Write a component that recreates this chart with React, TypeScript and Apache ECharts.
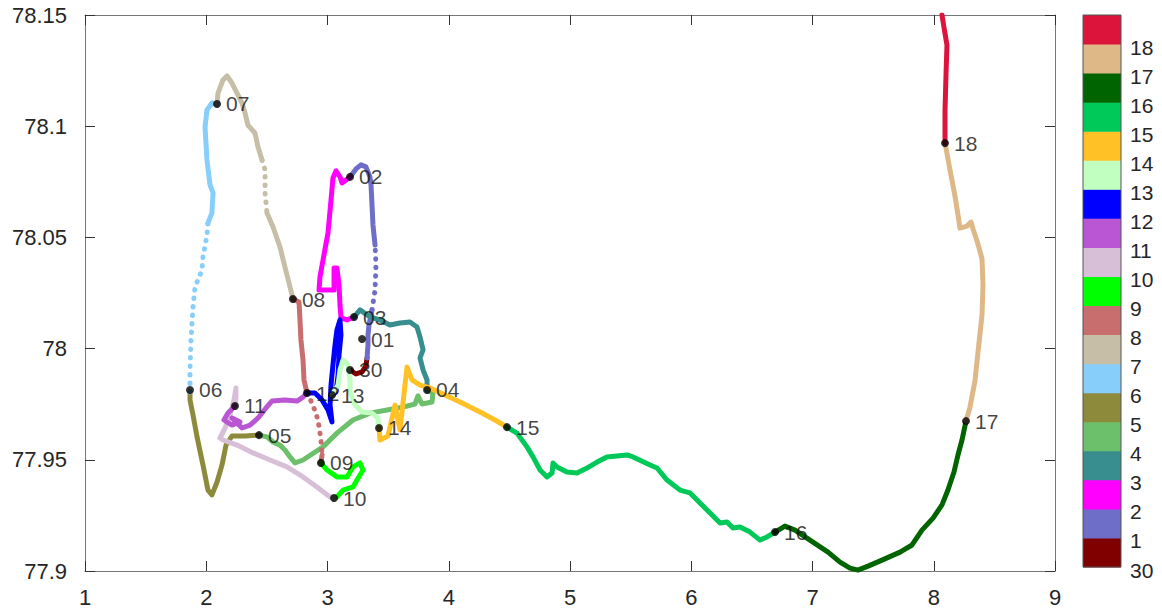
import React, { useEffect, useRef } from 'react';
import * as echarts from 'echarts';

// ---- Track data (x, y) per day ----
const day30 = [[3.186, 77.9904], [3.235, 77.9886], [3.285, 77.9895], [3.317, 77.9922], [3.326, 77.9958]];
const day01a = [[3.326, 77.9958], [3.334, 78.0016], [3.334, 78.0061], [3.342, 78.0106], [3.367, 78.0174]];
const day01Sparse = [[3.367, 78.0174], [3.392, 78.0263], [3.4, 78.0376], [3.392, 78.0466]];
const day01b = [[3.392, 78.0466], [3.375, 78.0556], [3.367, 78.0646], [3.359, 78.0736], [3.35, 78.0772], [3.317, 78.0817], [3.276, 78.0826], [3.235, 78.0808], [3.186, 78.0772]];
const day02 = [[3.186, 78.0772], [3.12, 78.0745], [3.103, 78.0772], [3.07, 78.0799], [3.045, 78.0767], [3.029, 78.0668], [3.004, 78.052], [2.963, 78.0398], [2.938, 78.0322], [2.93, 78.0263], [3.054, 78.0263], [3.054, 78.0362], [3.078, 78.0362], [3.095, 78.0286], [3.103, 78.0196], [3.111, 78.0138], [3.161, 78.0129], [3.219, 78.0142]];
const day03 = [[3.219, 78.0142], [3.268, 78.0174], [3.351, 78.0142], [3.433, 78.0129], [3.515, 78.0106], [3.598, 78.0115], [3.68, 78.012], [3.738, 78.0097], [3.763, 78.0052], [3.788, 77.9994], [3.763, 77.9958], [3.788, 77.9904], [3.821, 77.9859], [3.821, 77.9814]];
const day04 = [[3.821, 77.9814], [3.87, 77.98], [3.862, 77.976], [3.779, 77.9751], [3.746, 77.9787], [3.722, 77.9751], [3.623, 77.9737], [3.491, 77.9724], [3.351, 77.971], [3.21, 77.9679], [3.078, 77.962], [2.963, 77.9558], [2.798, 77.9499], [2.732, 77.9486], [2.691, 77.9513], [2.649, 77.9544], [2.608, 77.9566], [2.551, 77.958], [2.501, 77.9603], [2.435, 77.9611]];
const day05 = [[2.435, 77.9611], [2.32, 77.9607], [2.212, 77.9607], [2.163, 77.9566], [2.13, 77.9477], [2.089, 77.94], [2.047, 77.9342], [2.014, 77.9364], [1.973, 77.9477], [1.924, 77.9603], [1.891, 77.9701], [1.866, 77.9769], [1.866, 77.9805]];
const day06Sparse = [[1.866, 77.9805], [1.866, 77.9904], [1.874, 78.0039], [1.891, 78.0187], [1.907, 78.0277], [1.965, 78.0353], [1.973, 78.0412], [2.006, 78.0511], [2.014, 78.0565]];
const day06 = [[2.014, 78.0565], [2.047, 78.061], [2.056, 78.07], [2.031, 78.0736], [2.006, 78.0848], [1.99, 78.0996], [2.006, 78.1073], [2.047, 78.1104], [2.089, 78.11]];
const day07a = [[2.089, 78.11], [2.097, 78.1149], [2.138, 78.1208], [2.171, 78.1226], [2.212, 78.1194], [2.254, 78.1149], [2.295, 78.1104], [2.32, 78.1059], [2.344, 78.1005], [2.402, 78.0969], [2.427, 78.0906], [2.46, 78.0848]];
const day07Sparse = [[2.46, 78.0848], [2.485, 78.0803], [2.485, 78.07], [2.501, 78.061]];
const day07b = [[2.501, 78.061], [2.551, 78.0547], [2.608, 78.0457], [2.649, 78.0367], [2.691, 78.0277], [2.715, 78.0223]];
const day08a = [[2.715, 78.0223], [2.765, 78.021], [2.773, 78.0129], [2.781, 78.0039], [2.798, 77.9949], [2.806, 77.9859], [2.831, 77.98]];
const day08Sparse = [[2.831, 77.98], [2.88, 77.9746], [2.922, 77.9679], [2.946, 77.9589], [2.955, 77.9522]];
const day08b = [[2.955, 77.9522], [2.946, 77.9486]];
const day09 = [[2.946, 77.9486], [2.996, 77.9454], [3.078, 77.9423], [3.161, 77.9423], [3.21, 77.9468], [3.268, 77.9486], [3.293, 77.9454], [3.243, 77.9409], [3.21, 77.9378], [3.128, 77.9364], [3.078, 77.9333], [3.045, 77.9328]];
const day10 = [[3.054, 77.9328], [3.021, 77.9333], [2.913, 77.9378], [2.798, 77.9423], [2.666, 77.9468], [2.526, 77.9499], [2.386, 77.9531], [2.254, 77.9566], [2.138, 77.9589], [2.113, 77.9598], [2.155, 77.9643], [2.196, 77.9701], [2.229, 77.9769], [2.245, 77.9823], [2.245, 77.9778], [2.237, 77.9742]];
const day11 = [[2.237, 77.9742], [2.179, 77.971], [2.146, 77.9679], [2.212, 77.9656], [2.278, 77.967], [2.212, 77.9688], [2.295, 77.9643], [2.361, 77.9656], [2.427, 77.9688], [2.493, 77.9733], [2.542, 77.9764], [2.649, 77.9769], [2.748, 77.9764], [2.798, 77.9782], [2.831, 77.98]];
const day12 = [[2.831, 77.98], [2.897, 77.98], [2.955, 77.9769], [3.004, 77.9724], [3.037, 77.967], [3.021, 77.9746], [3.029, 77.9836], [3.045, 77.9926], [3.062, 78.0016], [3.078, 78.0084], [3.103, 78.0129], [3.111, 78.0061], [3.095, 77.9971], [3.087, 77.9881], [3.07, 77.9805], [3.037, 77.9791]];
const day13 = [[3.037, 77.9791], [3.087, 77.9836], [3.103, 77.9904], [3.128, 77.9949], [3.169, 77.9926], [3.186, 77.9859], [3.186, 77.9805], [3.227, 77.9746], [3.285, 77.9715], [3.367, 77.971], [3.416, 77.9688], [3.425, 77.9643]];
const day14 = [[3.425, 77.9643], [3.433, 77.9589], [3.499, 77.9607], [3.557, 77.9746], [3.581, 77.9679], [3.598, 77.9634], [3.639, 77.9836], [3.656, 77.9917], [3.697, 77.9859], [3.763, 77.9836], [3.845, 77.9823], [3.969, 77.9791], [4.093, 77.976], [4.258, 77.9715], [4.381, 77.9679], [4.48, 77.9647]];
const day15 = [[4.48, 77.9647], [4.563, 77.962], [4.645, 77.9558], [4.695, 77.9513], [4.753, 77.9454], [4.81, 77.9423], [4.852, 77.9441], [4.86, 77.9486], [4.893, 77.9468], [4.975, 77.9445], [5.058, 77.9441], [5.14, 77.9463], [5.223, 77.949], [5.305, 77.9513], [5.47, 77.9522], [5.52, 77.9513], [5.66, 77.9477], [5.718, 77.9463], [5.8, 77.9409], [5.907, 77.9364], [5.99, 77.9351], [6.072, 77.9306], [6.155, 77.9261], [6.237, 77.9216], [6.295, 77.922], [6.344, 77.9193], [6.402, 77.9198], [6.485, 77.9175], [6.567, 77.9139], [6.625, 77.9153], [6.691, 77.9175]];
const day16 = [[6.691, 77.9175], [6.773, 77.9202], [6.856, 77.9184], [6.979, 77.9139], [7.128, 77.9085], [7.227, 77.904], [7.309, 77.9013], [7.375, 77.9004], [7.458, 77.9022], [7.573, 77.9049], [7.722, 77.9085], [7.821, 77.9117], [7.903, 77.9184], [7.994, 77.9238], [8.068, 77.9297], [8.117, 77.9364], [8.167, 77.9445], [8.2, 77.9522], [8.233, 77.9589], [8.266, 77.9674]];
const day17 = [[8.266, 77.9674], [8.299, 77.9737], [8.34, 77.9854], [8.365, 77.9985], [8.398, 78.0151], [8.406, 78.0286], [8.398, 78.0403], [8.365, 78.047], [8.324, 78.0538], [8.307, 78.0569], [8.274, 78.0551], [8.216, 78.0542], [8.2, 78.0601], [8.175, 78.0686], [8.134, 78.0803], [8.101, 78.0902], [8.093, 78.0924]];
const day18 = [[8.093, 78.0924], [8.093, 78.1073], [8.101, 78.123], [8.109, 78.1365], [8.085, 78.1442], [8.068, 78.15]];

// pieces: [day, points, sparse]
const trackPieces: [string, number[][], boolean][] = [
  ['30', day30, false],
  ['1', day01a, false], ['1', day01Sparse, true], ['1', day01b, false],
  ['2', day02, false],
  ['3', day03, false],
  ['4', day04, false],
  ['5', day05, false],
  ['6', day06Sparse, true], ['6', day06, false],
  ['7', day07a, false], ['7', day07Sparse, true], ['7', day07b, false],
  ['8', day08a, false], ['8', day08Sparse, true], ['8', day08b, false],
  ['9', day09, false],
  ['10', day10, false],
  ['11', day11, false],
  ['12', day12, false],
  ['13', day13, false],
  ['14', day14, false],
  ['15', day15, false],
  ['16', day16, false],
  ['17', day17, false],
  ['18', day18, false],
];

// ---- Day start markers ----
const markerNames = ['30', '01', '02', '03', '04', '05', '06', '07', '08', '09', '10', '11', '12', '13', '14', '15', '16', '17', '18'];
const markerX = [3.186, 3.285, 3.186, 3.219, 3.821, 2.435, 1.866, 2.089, 2.715, 2.946, 3.054, 2.237, 2.831, 3.037, 3.425, 4.48, 6.691, 8.266, 8.093];
const markerY = [77.9904, 78.0043, 78.0772, 78.0142, 77.9814, 77.9611, 77.9814, 78.11, 78.0223, 77.9486, 77.9328, 77.9742, 77.98, 77.9791, 77.9643, 77.9647, 77.9175, 77.9674, 78.0924];

// ---- Colorbar (bottom to top) ----
const colorbarDays = ['30', '1', '2', '3', '4', '5', '6', '7', '8', '9', '10', '11', '12', '13', '14', '15', '16', '17', '18'];
const colorbarColors = ['#800000', '#6E6EC8', '#FF00FF', '#388E8E', '#6CC06C', '#8E8A3C', '#87CEFA', '#C6BEA6', '#C86E6E', '#00FF00', '#D8BFD8', '#BA55D3', '#0000FF', '#C1FFC1', '#FFC125', '#00C95A', '#006400', '#DEB887', '#DC143C'];

// ---- Axis ticks ----
const xMin = 1, xMax = 9, xStep = 1;
const yMin = 77.9, yMax = 78.15, yStep = 0.05;

const FONT = '"Liberation Sans", Arial, Helvetica, sans-serif';

export default function App() {
  const ref = useRef<HTMLDivElement>(null);
  useEffect(() => {
    if (!ref.current) return;
    const chart = echarts.init(ref.current, undefined, { renderer: 'svg' });
    const colorOf = (d: string) => colorbarColors[colorbarDays.indexOf(d)];

    const lineSeries = trackPieces.map(([d, pts, sparse]) => ({
      type: 'line',
      data: pts,
      symbol: 'none',
      showSymbol: false,
      silent: true,
      clip: true,
      z: 2,
      lineStyle: {
        color: colorOf(d),
        width: 5,
        cap: 'round',
        join: 'round',
        type: sparse ? [0.5, 8] : 'solid',
      },
    }));

    const gridLeft = 85, gridTop = 15, gridW = 970, gridH = 556;
    const cbLeft = 1083, cbTop = 15, cbW = 38, cbH = 552;
    const n = colorbarDays.length;
    const bh = cbH / n;
    const cbGraphics: any[] = [];
    colorbarDays.forEach((d, i) => {
      const y = cbTop + cbH - (i + 1) * bh;
      cbGraphics.push({
        type: 'rect',
        shape: { x: cbLeft, y: y, width: cbW, height: bh + 0.5 },
        style: { fill: colorbarColors[i] },
        silent: true,
      });
      cbGraphics.push({
        type: 'text',
        x: cbLeft + cbW + 9,
        y: cbTop + cbH - i * bh + 3,
        style: { text: d, fill: '#262626', fontSize: 21, fontFamily: FONT, verticalAlign: 'middle', align: 'left' },
        silent: true,
      });
    });
    cbGraphics.push({
      type: 'rect',
      shape: { x: cbLeft, y: cbTop, width: cbW, height: cbH },
      style: { fill: 'none', stroke: '#555', lineWidth: 1 },
      silent: true,
    });

    const axisCommon = {
      type: 'value',
      axisLine: { show: true, lineStyle: { color: '#777', width: 1 } },
      axisTick: { show: true, inside: true, length: 10, lineStyle: { color: '#333', width: 1 } },
      splitLine: { show: false },
    };

    const fmtY = (v: number) => String(parseFloat(v.toFixed(2)));

    chart.setOption({
      animation: false,
      grid: { left: gridLeft, top: gridTop, width: gridW, height: gridH, containLabel: false },
      xAxis: [
        { ...axisCommon, min: xMin, max: xMax, interval: xStep, position: 'bottom',
          axisLabel: { fontSize: 22, color: '#262626', margin: 15, fontFamily: FONT } },
        { ...axisCommon, min: xMin, max: xMax, interval: xStep, position: 'top', axisLabel: { show: false } },
      ],
      yAxis: [
        { ...axisCommon, min: yMin, max: yMax, interval: yStep, position: 'left',
          axisLabel: { fontSize: 22, color: '#262626', margin: 18, fontFamily: FONT, formatter: fmtY } },
        { ...axisCommon, min: yMin, max: yMax, interval: yStep, position: 'right', axisLabel: { show: false } },
      ],
      series: [
        ...lineSeries,
        {
          type: 'scatter',
          data: markerNames.map((nm, i) => ({ name: nm, value: [markerX[i], markerY[i]] })),
          symbol: 'circle',
          symbolSize: 8,
          z: 5,
          silent: true,
          itemStyle: { color: '#000' },
          label: {
            show: true, position: 'right', distance: 5, formatter: '{b}',
            fontSize: 21, color: '#111', fontFamily: FONT,
          },
        },
      ],
      graphic: cbGraphics,
    });
    return () => chart.dispose();
  }, []);
  return <div ref={ref} style={{ position: 'absolute', left: 0, top: 0, width: 1162, height: 614, background: '#fff' }} />;
}
